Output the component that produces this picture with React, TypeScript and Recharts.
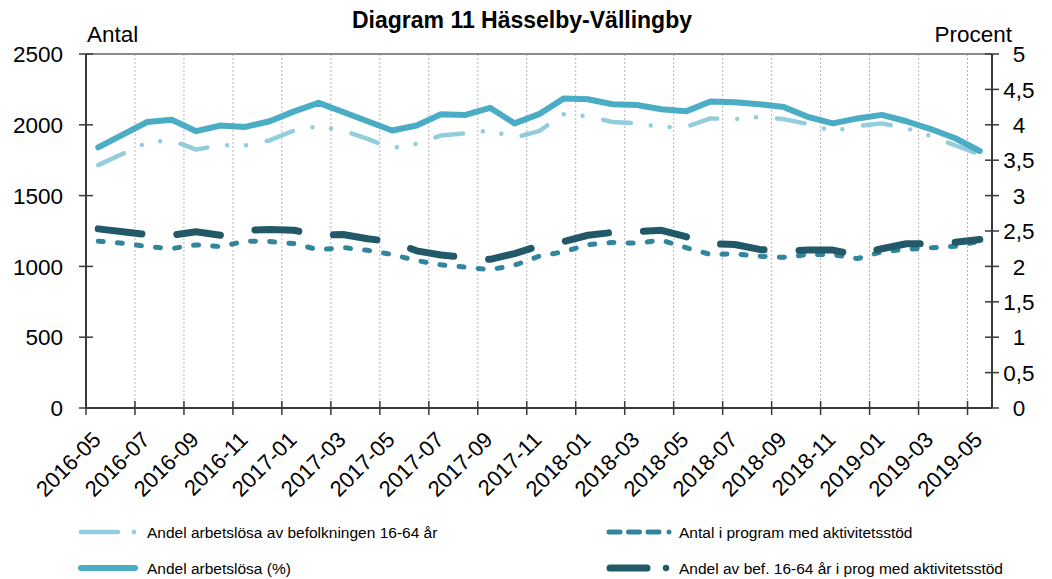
import React from "react";
import { LineChart, Line, XAxis, YAxis, CartesianGrid, ReferenceLine } from "recharts";

const months = [
  "2016-05", "2016-06", "2016-07", "2016-08", "2016-09", "2016-10", "2016-11", "2016-12",
  "2017-01", "2017-02", "2017-03", "2017-04", "2017-05", "2017-06", "2017-07", "2017-08",
  "2017-09", "2017-10", "2017-11", "2017-12", "2018-01", "2018-02", "2018-03", "2018-04",
  "2018-05", "2018-06", "2018-07", "2018-08", "2018-09", "2018-10", "2018-11", "2018-12",
  "2019-01", "2019-02", "2019-03", "2019-04", "2019-05",
];

// Andel arbetslösa av befolkningen 16-64 år (procent, höger axel)
const andelBefolkning = [
  3.43, 3.59, 3.75, 3.78, 3.65, 3.71, 3.71, 3.78, 3.92, 3.98, 3.92, 3.8, 3.67, 3.73, 3.85, 3.88,
  3.92, 3.82, 3.91, 4.15, 4.12, 4.04, 4.02, 3.97, 3.97, 4.09, 4.08, 4.11, 4.08, 4.01, 3.91, 3.98,
  4.02, 3.95, 3.84, 3.71, 3.58,
];

// Andel arbetslösa (%) (höger axel)
const andelArbetslosa = [
  3.68, 3.86, 4.04, 4.07, 3.91, 3.99, 3.97, 4.05, 4.19, 4.31, 4.18, 4.05, 3.92, 3.99, 4.15, 4.14,
  4.24, 4.02, 4.15, 4.37, 4.36, 4.29, 4.28, 4.22, 4.19, 4.33, 4.32, 4.29, 4.25, 4.11, 4.02, 4.09,
  4.14, 4.05, 3.94, 3.81, 3.63,
];

// Antal i program med aktivitetsstöd (vänster axel)
const antalProgram = [
  1178, 1164, 1140, 1126, 1152, 1140, 1178, 1176, 1161, 1117, 1133, 1114, 1084, 1041, 1011, 994,
  977, 1008, 1072, 1103, 1154, 1169, 1164, 1185, 1133, 1084, 1089, 1072, 1064, 1084, 1084, 1055,
  1103, 1121, 1131, 1142, 1178,
];

// Andel av bef. 16-64 år i prog med aktivitetsstöd (höger axel)
const andelProgram = [
  2.53, 2.49, 2.45, 2.44, 2.49, 2.44, 2.51, 2.52, 2.51, 2.44, 2.45, 2.39, 2.35, 2.22, 2.16, 2.13,
  2.1, 2.18, 2.29, 2.35, 2.44, 2.48, 2.49, 2.51, 2.42, 2.32, 2.31, 2.24, 2.22, 2.23, 2.23, 2.16,
  2.25, 2.32, 2.32, 2.34, 2.38,
];

const leftTicks = [0, 500, 1000, 1500, 2000, 2500];
const rightTicks = [0, 0.5, 1, 1.5, 2, 2.5, 3, 3.5, 4, 4.5, 5];

const FONT = "'Liberation Sans', Arial, sans-serif";
const AXIS_COLOR = "#3a3a3a";
const PLOT_WIDTH = 906;
const HALF_BAND = PLOT_WIDTH / months.length / 2;

const data = months.map((m, i) => ({
  month: m,
  bef: andelBefolkning[i],
  arb: andelArbetslosa[i],
  antal: antalProgram[i],
  prog: andelProgram[i],
}));

const XTick = ({ x, y, payload }: any) => {
  const bx = x - HALF_BAND;
  return (
    <g>
      <line x1={bx} x2={bx} y1={y - 7} y2={y + 7} stroke={AXIS_COLOR} strokeWidth={1.5} />
      <text
        x={x + 4}
        y={y + 33}
        textAnchor="end"
        fontSize={22}
        fontFamily={FONT}
        fill="#000"
        transform={`rotate(-45 ${x + 4} ${y + 33})`}
      >
        {payload.value}
      </text>
    </g>
  );
};

const LeftTick = ({ x, y, payload }: any) => (
  <g>
    <line x1={x - 7} x2={x + 7} y1={y} y2={y} stroke={AXIS_COLOR} strokeWidth={1.5} />
    <text x={x - 23} y={y} dy="0.36em" textAnchor="end" fontSize={22.5} fontFamily={FONT} fill="#000">
      {payload.value}
    </text>
  </g>
);

const RightTick = ({ x, y, payload }: any) => (
  <g>
    <line x1={x - 7} x2={x + 7} y1={y} y2={y} stroke={AXIS_COLOR} strokeWidth={1.5} />
    <text x={x + 27} y={y} dy="0.36em" textAnchor="middle" fontSize={22.5} fontFamily={FONT} fill="#000">
      {String(payload.value).replace(".", ",")}
    </text>
  </g>
);

export default function App() {
  return (
    <div style={{ position: "absolute", left: 0, top: 0, width: 1052, height: 579, background: "#fff" }}>
      <LineChart
        width={1052}
        height={579}
        data={data}
        margin={{ top: 54, right: 0, bottom: 0, left: 0 }}
      >
        <CartesianGrid
          horizontal={false}
          stroke="#b5b5b5"
          strokeDasharray="2 2"
          verticalCoordinatesGenerator={({ offset }: any) =>
            Array.from({ length: 18 }, (_, n) => offset.left + (offset.width * 2 * (n + 1)) / months.length)
          }
        />
        <XAxis
          dataKey="month"
          interval={1}
          height={171}
          padding={{ left: HALF_BAND, right: HALF_BAND }}
          tickSize={0}
          tickMargin={0}
          tickLine={false}
          axisLine={{ stroke: AXIS_COLOR, strokeWidth: 2 }}
          tick={<XTick />}
        />
        <YAxis
          yAxisId="left"
          width={86}
          domain={[0, 2500]}
          ticks={leftTicks}
          interval={0}
          tickSize={0}
          tickMargin={0}
          tickLine={false}
          axisLine={{ stroke: AXIS_COLOR, strokeWidth: 2 }}
          tick={<LeftTick />}
        />
        <YAxis
          yAxisId="right"
          orientation="right"
          width={60}
          domain={[0, 5]}
          ticks={rightTicks}
          interval={0}
          tickSize={0}
          tickMargin={0}
          tickLine={false}
          axisLine={{ stroke: AXIS_COLOR, strokeWidth: 2 }}
          tick={<RightTick />}
        />
        <ReferenceLine yAxisId="left" y={2500} stroke="#8c8c8c" strokeWidth={2} />
        <Line
          yAxisId="left"
          dataKey="antal"
          type="linear"
          stroke="#31859c"
          strokeWidth={5}
          strokeDasharray="5 14.2"
          strokeLinecap="round"
          strokeLinejoin="round"
          dot={false}
          activeDot={false}
          isAnimationActive={false}
        />
        <Line
          yAxisId="right"
          dataKey="bef"
          type="linear"
          stroke="#93cddd"
          strokeWidth={4.5}
          strokeDasharray="28 20 0 19 0 21"
          strokeLinecap="round"
          strokeLinejoin="round"
          dot={false}
          activeDot={false}
          isAnimationActive={false}
        />
        <Line
          yAxisId="right"
          dataKey="arb"
          type="linear"
          stroke="#4bacc6"
          strokeWidth={6}
          strokeLinecap="round"
          strokeLinejoin="round"
          dot={false}
          activeDot={false}
          isAnimationActive={false}
        />
        <Line
          yAxisId="right"
          dataKey="prog"
          type="linear"
          stroke="#215968"
          strokeWidth={7}
          strokeDasharray="44 35"
          strokeLinecap="round"
          strokeLinejoin="round"
          dot={false}
          activeDot={false}
          isAnimationActive={false}
        />
      </LineChart>
      <svg
        width={1052}
        height={579}
        style={{ position: "absolute", left: 0, top: 0, pointerEvents: "none" }}
        fontFamily={FONT}
      >
        <text x={522} y={28} textAnchor="middle" fontSize={23} fontWeight="bold" fill="#000">
          Diagram 11 Hässelby-Vällingby
        </text>
        <text x={87} y={42} fontSize={22.5} fill="#000">Antal</text>
        <text x={1012} y={42} textAnchor="end" fontSize={22.5} fill="#000">Procent</text>

        {/* legend */}
        <line x1={81} x2={118} y1={532} y2={532} stroke="#93cddd" strokeWidth={4.5} strokeLinecap="round" />
        <circle cx={134} cy={532} r={2.3} fill="#93cddd" />
        <text x={147} y={537.5} fontSize={15.5} fill="#000">Andel arbetslösa av befolkningen 16-64 år</text>

        <line x1={81} x2={135} y1={568} y2={568} stroke="#4bacc6" strokeWidth={6} strokeLinecap="round" />
        <text x={147} y={573.5} fontSize={15.5} fill="#000">Andel arbetslösa (%)</text>

        <line x1={609} x2={660} y1={532} y2={532} stroke="#31859c" strokeWidth={5} strokeLinecap="round" strokeDasharray="11 8.5" />
        <circle cx={669} cy={532} r={2.5} fill="#31859c" />
        <text x={679} y={537.5} fontSize={15.5} fill="#000">Antal i program med aktivitetsstöd</text>

        <line x1={610} x2={647} y1={568} y2={568} stroke="#215968" strokeWidth={7} strokeLinecap="round" />
        <circle cx={666} cy={568} r={3.2} fill="#215968" />
        <text x={679} y={573.5} fontSize={15.5} fill="#000">Andel av bef. 16-64 år i prog med aktivitetsstöd</text>
      </svg>
    </div>
  );
}
